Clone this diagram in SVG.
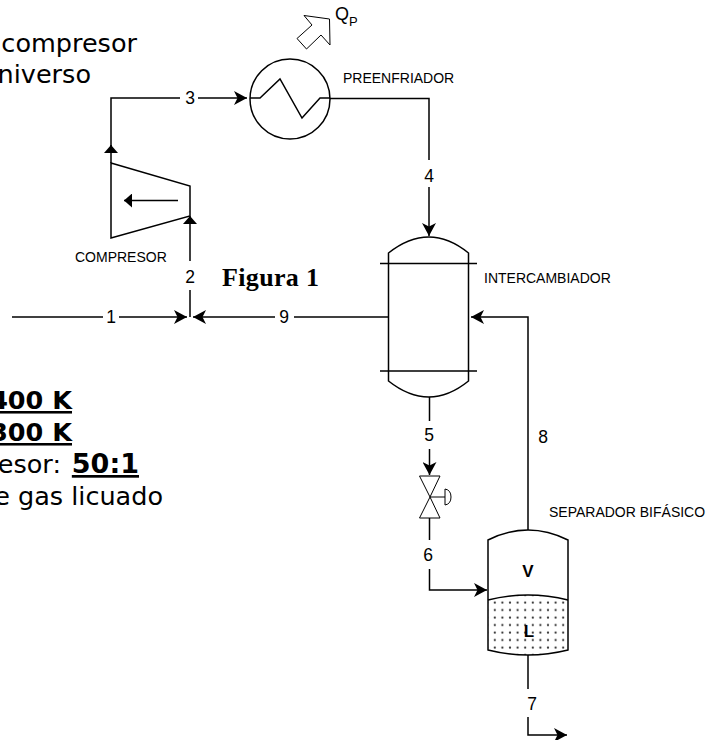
<svg xmlns="http://www.w3.org/2000/svg" width="712" height="740" viewBox="0 0 712 740">
<style>
.l{fill:none;stroke:#000;stroke-width:1.5}
.t{fill:none;stroke:#000;stroke-width:1}
.n{font:17.500px "Liberation Sans",Arial,sans-serif;text-anchor:middle;fill:#000}
.c{font:14px "Liberation Sans",Arial,sans-serif;fill:#000}
.v{font:25.500px "DejaVu Sans",Verdana,sans-serif;fill:#000;text-anchor:end}
.b{font-weight:bold;text-decoration:underline}
.h{font:bold 17px "Liberation Sans",Arial,sans-serif;text-anchor:middle;fill:#000}
</style>
<defs>
<marker id="a" markerUnits="userSpaceOnUse" markerWidth="14" markerHeight="14" refX="13" refY="7" orient="auto"><path d="M0 0L13 7L0 14L3.500 7Z" fill="#000"/></marker>
<marker id="s" markerUnits="userSpaceOnUse" markerWidth="9" markerHeight="14" refX="8" refY="7" orient="auto"><path d="M0 0L8 7L0 14Z" fill="#000"/></marker>
<pattern id="d" width="7.600" height="7.500" patternUnits="userSpaceOnUse" x="491" y="600"><circle cx="3.800" cy="2.500" r="1.100" fill="#333"/></pattern>
</defs>
<g id="background-text">
<text class="v" x="137" y="52">compresor</text>
<text class="v" x="91" y="83">niverso</text>
<text class="v b" x="72" y="409">400 K</text>
<text class="v b" x="72" y="441">300 K</text>
<text class="v" x="61" y="473">esor:</text>
<text class="v b" x="139" y="473" style="font-size:27px">50:1</text>
<text class="v" x="163" y="505">e gas licuado</text>
<text x="222" y="285.500" textLength="97" lengthAdjust="spacing" style="font:bold 26px 'Liberation Serif','DejaVu Serif',serif">Figura 1</text>
</g>
<g id="connectors">
<path class="l" d="M111 163V98H180"/>
<path class="l" d="M111 153V145" marker-end="url(#s)"/>
<path class="l" d="M198 98H247" marker-end="url(#a)"/>
<path class="l" d="M330 98.500H429V160"/>
<path class="l" d="M429 187V236" marker-end="url(#a)"/>
<path class="l" d="M190 261V216" marker-end="url(#s)"/>
<path class="l" d="M190 290V317"/>
<path class="l" d="M12 317H103"/>
<path class="l" d="M119 317H187" marker-end="url(#a)"/>
<path class="l" d="M275 317H193" marker-end="url(#a)"/>
<path class="l" d="M388 317H294"/>
<path class="l" d="M528 530V317H471" marker-end="url(#a)"/>
<path class="l" d="M429.500 397V421"/>
<path class="l" d="M429.500 449V475" marker-end="url(#a)"/>
<path class="l" d="M429.500 518V540"/>
<path class="l" d="M429.500 569V590H487" marker-end="url(#a)"/>
<path class="l" d="M528 655V689"/>
<path class="l" d="M528 717V735H567" marker-end="url(#a)"/>
<text class="n" x="190" y="104">3</text>
<text class="n" x="429" y="182">4</text>
<text class="n" x="190" y="283">2</text>
<text class="n" x="111" y="323">1</text>
<text class="n" x="284" y="323">9</text>
<text class="n" x="429" y="441">5</text>
<text class="n" x="543" y="443">8</text>
<text class="n" x="428" y="561">6</text>
<text class="n" x="532" y="710">7</text>
</g>
<g id="preenfriador">
<circle class="l" cx="290" cy="99" r="40"/>
<path class="l" d="M250 98H260L280 79L302 118L320 98H330"/>
<text class="c" x="343" y="83">PREENFRIADOR</text>
</g>
<g id="qp">
<path class="t" d="M304 15.500L329.500 19L330 45L321 35L306.500 49L297 38.500L312 25Z"/>
<text x="335" y="20" style="font:18px 'Liberation Sans',Arial,sans-serif">Q</text>
<text x="349" y="26" style="font:13px 'Liberation Sans',Arial,sans-serif">P</text>
</g>
<g id="compresor">
<path class="l" d="M111 163L190 186V216L111 238Z"/>
<path class="l" d="M178 200.500H124" marker-end="url(#s)"/>
<text class="c" x="75" y="262">COMPRESOR</text>
</g>
<g id="intercambiador">
<path class="l" d="M388.500 253Q429 221 468.500 253V381Q429 413 388.500 381Z"/>
<path class="l" d="M380 263.500H477M380 371H477"/>
<text class="c" x="484" y="283">INTERCAMBIADOR</text>
</g>
<g id="valvula">
<path class="t" d="M419.500 476H440L430 497L419.500 518H440L430 497Z"/>
<path class="t" d="M430 497H445"/>
<path class="t" d="M445 489Q451 490 451 497Q451 504 445 505Z"/>
</g>
<g id="separador">
<path d="M488 600Q528 590 568 600V650Q528 660 488 650Z" fill="url(#d)"/>
<path class="l" d="M488 650V540Q528 520 568 540V650Q528 660 488 650Z"/>
<path class="l" d="M488 600Q528 590 568 600"/>
<text class="h" x="528" y="577">V</text>
<text class="h" x="529" y="637">L</text>
<text class="c" x="549" y="517">SEPARADOR BIFÁSICO</text>
</g>
</svg>
